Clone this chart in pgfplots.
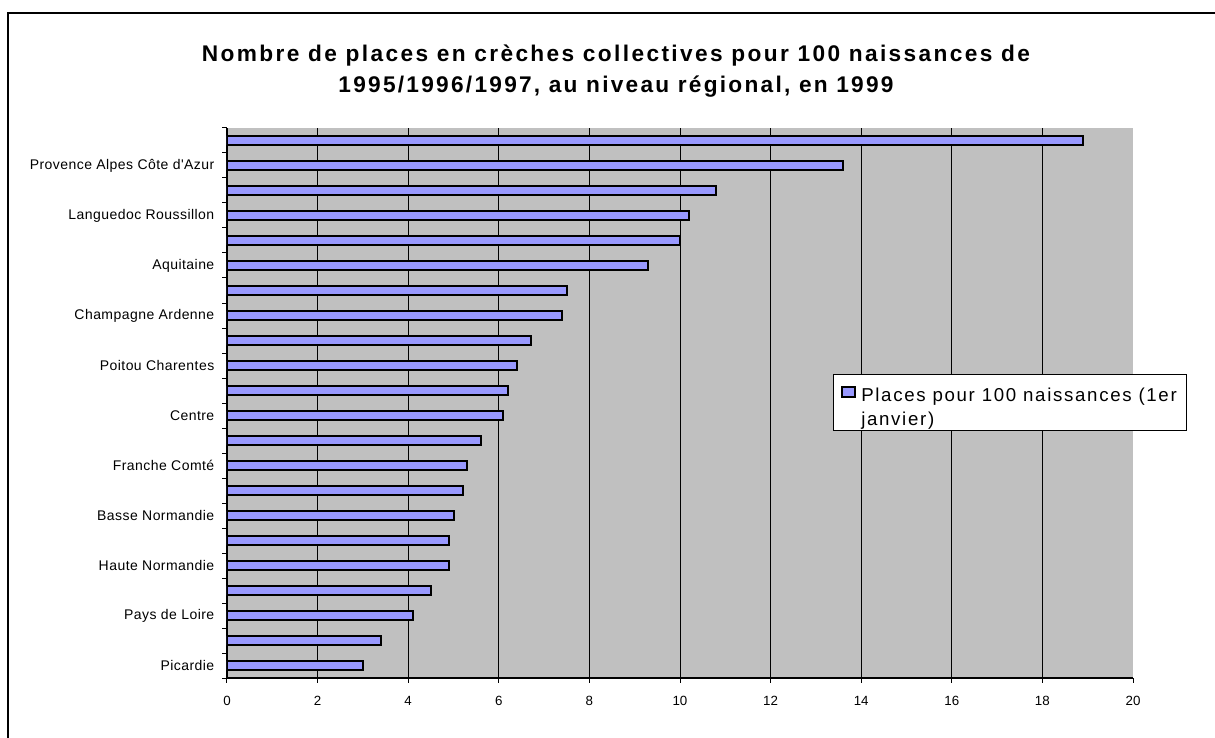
\documentclass[border=0pt]{standalone}
\usepackage{fontspec}
\setmainfont{Liberation Sans}
\newfontfamily\titleA{Liberation Sans}[LetterSpace=10.5]
\newfontfamily\titleB{Liberation Sans}[LetterSpace=10]
\newfontfamily\labfont{Liberation Sans}[LetterSpace=3.2]
\newfontfamily\legfont{Liberation Sans}[LetterSpace=9]
\usepackage{pgfplots}
\pgfplotsset{compat=1.18}
\definecolor{barblue}{HTML}{9999FF}
\definecolor{plotgray}{HTML}{C0C0C0}

\begin{document}
\begin{tikzpicture}
\def\px{0.75pt}
\useasboundingbox (0,0) rectangle ({1215*\px},{-738*\px});
\draw[line width=1.1pt] ({8*\px},{-738*\px}) -- ({8*\px},{-13*\px}) -- ({1215*\px},{-13*\px});
\node[anchor=base, inner sep=0pt, font=\titleA\bfseries\fontsize{17}{20}\selectfont] at ({616*\px},{-62*\px}) {Nombre de places en crèches collectives pour 100 naissances de};
\node[anchor=base, inner sep=0pt, font=\titleB\bfseries\fontsize{17}{20}\selectfont] at ({616*\px},{-93*\px}) {1995/1996/1997, au niveau régional, en 1999};
\begin{axis}[
  at={({227*\px},{-678*\px})}, anchor=south west,
  scale only axis, width={906*\px}, height={550*\px},
  xmin=0, xmax=20, ymin=0.5, ymax=22.5,
  axis background/.style={fill=plotgray},
  axis x line*=bottom, axis y line*=left,
  axis line style={line width=1pt, -},
  xtick={0,2,...,18}, extra x ticks={20}, extra x tick style={grid=none},
  xmajorgrids, major grid style={black, line width=0.75pt},
  tick align=outside, major tick length=3.5pt,
  tick style={black, line width=0.75pt},
  ytick={0.5,1.5,...,22.5}, yticklabels={},
  extra y ticks={1,3,...,21},
  extra y tick labels={Picardie, Pays de Loire, Haute Normandie, Basse Normandie, Franche Comté, Centre, Poitou Charentes, Champagne Ardenne, Aquitaine, Languedoc Roussillon, Provence Alpes Côte d'Azur},
  extra y tick style={major tick length=0pt},
  yticklabel style={font=\labfont\fontsize{10.5}{12}\selectfont, xshift=-6pt},
  xticklabel style={font=\fontsize{10}{12}\selectfont, yshift=-6.5pt},
  /pgf/number format/assume math mode=true,
  xbar, bar width={9.5*\px},
  legend style={at={(0.669,0.5527)}, anchor=north west, draw=black, line width=0.75pt, fill=white, inner xsep=5.5pt, inner ysep=0pt, cells={anchor=base west, align=left}, column sep=2pt, font=\legfont\fontsize{14}{17.8}\selectfont},
  legend image code/.code={\draw[fill=barblue, draw=black, line width=1.5pt] (0pt,21.5pt) rectangle (9.75pt,29pt);},
]
\addplot[fill=barblue, draw=black, line width=1.5pt] coordinates {
(3.0,1) (3.4,2) (4.1,3) (4.5,4) (4.9,5) (4.9,6) (5.0,7) (5.2,8) (5.3,9) (5.6,10) (6.1,11)
(6.2,12) (6.4,13) (6.7,14) (7.4,15) (7.5,16) (9.3,17) (10.0,18) (10.2,19) (10.8,20) (13.6,21) (18.9,22)
};
\addlegendentry{\rule{0pt}{18.5pt}Places pour 100 naissances (1er\\janvier)}
\end{axis}
\end{tikzpicture}
\end{document}
